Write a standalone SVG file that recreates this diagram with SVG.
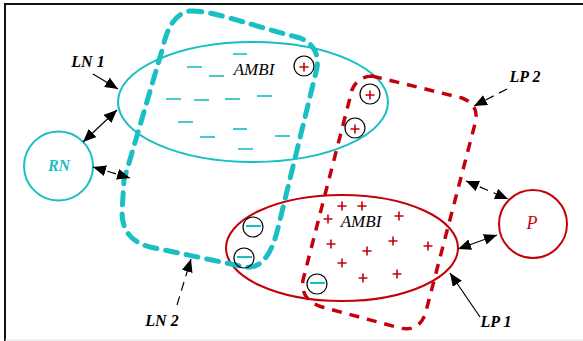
<svg xmlns="http://www.w3.org/2000/svg" width="583" height="341" viewBox="0 0 583 341">
  <style>
    .cy { stroke: #19BFC3; fill: none; }
    .rd { stroke: #C4000C; fill: none; }
    .ell { stroke-width: 2; }
    .cdash { stroke-width: 5; stroke-dasharray: 12 9; stroke-linecap: round; }
    .rdash { stroke-width: 3.5; stroke-dasharray: 10 8; stroke-linecap: butt; }
    .ion { stroke: #000; stroke-width: 1.2; fill: none; }
    .neg { stroke: #19BFC3; stroke-width: 2; }
    .pos { stroke: #C4000C; stroke-width: 1.6; fill: none; }
    .lbl { font-family: "Liberation Serif", serif; font-style: italic; font-weight: bold; font-size: 16px; fill: #000; text-anchor: middle; }
    .ambi { font-family: "Liberation Serif", serif; font-style: italic; font-size: 17px; fill: #000; text-anchor: middle; }
    .arr { stroke: #000; stroke-width: 1.2; fill: none; }
    .dsh { stroke-dasharray: 9 6; }
  </style>
  <defs>
    <marker id="head" markerUnits="userSpaceOnUse" markerWidth="14" markerHeight="11" refX="13" refY="5.5" orient="auto-start-reverse">
      <path d="M0,0 L13,5.5 L0,11 Z" fill="#000"/>
    </marker>
    <!-- positive charge mark, centred on its origin -->
    <path id="plus" d="M-4.5,0 h9 M0,-4.5 v9"/>
  </defs>

  <!-- frame -->
  <rect width="583" height="341" fill="#fff"/>
  <line x1="4" y1="4" x2="583" y2="4" stroke="#111" stroke-width="2"/>
  <line x1="5" y1="3" x2="5" y2="341" stroke="#111" stroke-width="2"/>
  <line x1="5" y1="340" x2="583" y2="340" stroke="#ddd" stroke-width="1"/>

  <!-- LN 1 : cyan ellipse with negative charges -->
  <g id="LN1">
    <ellipse class="cy ell" cx="253" cy="102" rx="135" ry="60"/>
    <g class="cy" stroke-width="1.6">
      <line x1="233" y1="54" x2="247" y2="54"/>
      <line x1="187" y1="67" x2="202" y2="67"/>
      <line x1="209" y1="76" x2="224" y2="76"/>
      <line x1="166" y1="99" x2="181" y2="99"/>
      <line x1="194" y1="100" x2="209" y2="100"/>
      <line x1="225" y1="99" x2="240" y2="99"/>
      <line x1="257" y1="96" x2="272" y2="96"/>
      <line x1="178" y1="122" x2="193" y2="122"/>
      <line x1="233" y1="129" x2="247" y2="129"/>
      <line x1="200" y1="137" x2="215" y2="137"/>
      <line x1="275" y1="136" x2="290" y2="136"/>
      <line x1="238" y1="149" x2="253" y2="149"/>
    </g>
    <text class="ambi" x="254" y="75">AMBI</text>
  </g>

  <!-- LP 1 : red ellipse with positive charges -->
  <g id="LP1">
    <ellipse class="rd ell" cx="342" cy="248" rx="116" ry="53"/>
    <g class="pos">
      <use href="#plus" x="342" y="206"/>
      <use href="#plus" x="362" y="206"/>
      <use href="#plus" x="328" y="219"/>
      <use href="#plus" x="399" y="216"/>
      <use href="#plus" x="331" y="244"/>
      <use href="#plus" x="367" y="251"/>
      <use href="#plus" x="393" y="241"/>
      <use href="#plus" x="428" y="246"/>
      <use href="#plus" x="342" y="263"/>
      <use href="#plus" x="363" y="278"/>
      <use href="#plus" x="397" y="274"/>
    </g>
    <text class="ambi" x="361" y="227">AMBI</text>
  </g>

  <!-- LN 2 : dashed cyan boundary -->
  <g id="LN2">
    <path class="cy cdash" d="M190,11 C210,10 240,22 300,38 Q320,46 317,68 L278,228 Q268,270 245,267 L150,247 Q122,240 122,212 L124,180 L163,47 Q170,14 190,11 Z"/>
  </g>

  <!-- LP 2 : dashed red boundary -->
  <g id="LP2">
    <path class="rd rdash" d="M372,76 L462,98 Q478,104 476,120 L425,315 Q418,332 400,328 L322,307 Q300,300 303,280 L352,90 Q357,77 372,76 Z"/>
  </g>

  <!-- isolated charges -->
  <g id="ions-pos">
    <circle class="ion" cx="304" cy="66" r="10"/>
    <circle class="ion" cx="370" cy="94" r="10"/>
    <circle class="ion" cx="355" cy="128" r="10"/>
    <g class="pos">
      <use href="#plus" x="304" y="67"/>
      <use href="#plus" x="370" y="95"/>
      <use href="#plus" x="355" y="129"/>
    </g>
  </g>
  <g id="ions-neg">
    <circle class="ion" cx="253" cy="227" r="10"/>
    <circle class="ion" cx="244" cy="258" r="10"/>
    <circle class="ion" cx="317" cy="284" r="10"/>
    <line class="neg" x1="246" y1="226" x2="261" y2="226"/>
    <line class="neg" x1="237" y1="257" x2="252" y2="257"/>
    <line class="neg" x1="310" y1="283" x2="325" y2="283"/>
  </g>

  <!-- RN reservoir -->
  <g id="RN">
    <circle class="cy ell" cx="58.5" cy="166" r="34.5"/>
    <text class="lbl" x="59" y="171" style="fill:#19BFC3">RN</text>
  </g>

  <!-- P reservoir -->
  <g id="P">
    <circle class="rd ell" cx="533" cy="224" r="34"/>
    <text x="532" y="229" font-family="Liberation Serif, serif" font-style="italic" font-size="18" fill="#C4000C" text-anchor="middle">P</text>
  </g>

  <!-- connectors -->
  <g id="connectors">
    <line class="arr" x1="93" y1="74" x2="118" y2="89" marker-end="url(#head)"/>
    <line class="arr" x1="83" y1="142" x2="117" y2="110" marker-start="url(#head)" marker-end="url(#head)"/>
    <line class="arr dsh" x1="93" y1="167" x2="130" y2="178" marker-start="url(#head)" marker-end="url(#head)"/>
    <line class="arr dsh" x1="177" y1="305" x2="191" y2="259" marker-end="url(#head)"/>
    <line class="arr dsh" x1="507" y1="89" x2="474" y2="106" marker-end="url(#head)"/>
    <line class="arr dsh" x1="466" y1="181" x2="508" y2="199" marker-start="url(#head)" marker-end="url(#head)"/>
    <line class="arr" x1="458" y1="249" x2="497" y2="235" marker-start="url(#head)" marker-end="url(#head)"/>
    <line class="arr" x1="480" y1="317" x2="450" y2="273" marker-end="url(#head)"/>
  </g>

  <!-- labels -->
  <text class="lbl" x="88" y="67">LN 1</text>
  <text class="lbl" x="525" y="82">LP 2</text>
  <text class="lbl" x="162" y="326">LN 2</text>
  <text class="lbl" x="496" y="327">LP 1</text>
</svg>
